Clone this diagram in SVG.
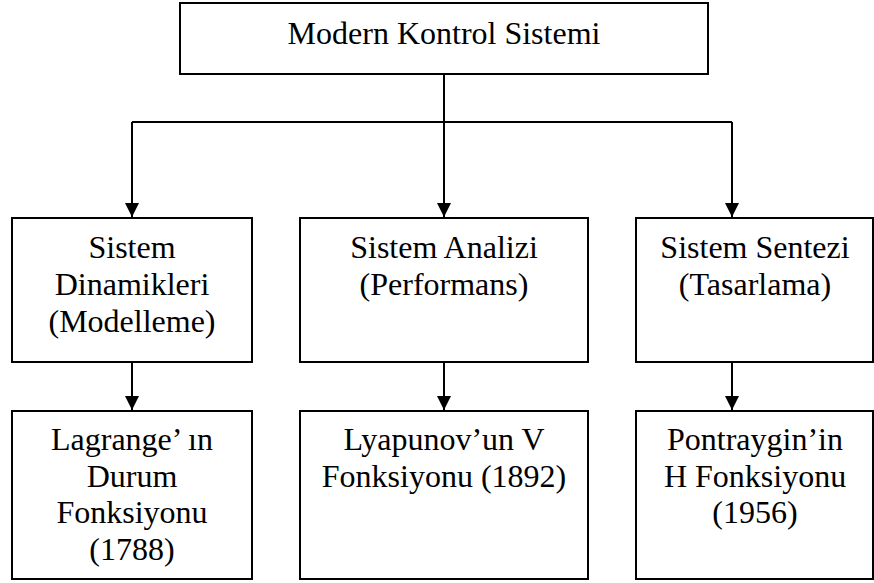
<svg xmlns="http://www.w3.org/2000/svg" width="874" height="583" viewBox="0 0 874 583">
<style>
.box{fill:#fff;stroke:#000;stroke-width:2}
.t{font-family:"Liberation Serif","Times New Roman",serif;font-size:32px;fill:#000;text-anchor:middle}
.c{fill:none;stroke:#000;stroke-width:2}
</style>
<defs>
<marker id="ah" markerUnits="userSpaceOnUse" markerWidth="16" markerHeight="16" refX="14" refY="7" orient="auto">
<path d="M0,0 L14,7 L0,14 z" fill="#000"/>
</marker>
</defs>
<rect width="874" height="583" fill="#fff"/>
<g id="connectors">
<path class="c" d="M444,74 V122"/>
<path class="c" d="M132,122 H732"/>
<path class="c" d="M132,122 V217" marker-end="url(#ah)"/>
<path class="c" d="M444,122 V217" marker-end="url(#ah)"/>
<path class="c" d="M732,122 V217" marker-end="url(#ah)"/>
<path class="c" d="M132,362 V410" marker-end="url(#ah)"/>
<path class="c" d="M444,362 V410" marker-end="url(#ah)"/>
<path class="c" d="M732,362 V410" marker-end="url(#ah)"/>
</g>
<g id="root">
<rect class="box" x="180" y="3" width="528" height="71"/>
<text class="t" x="444" y="44">Modern Kontrol Sistemi</text>
</g>
<g id="dinamik">
<rect class="box" x="12" y="218" width="240" height="144"/>
<text class="t" x="132" y="258">Sistem</text>
<text class="t" x="132" y="295">Dinamikleri</text>
<text class="t" x="132" y="332">(Modelleme)</text>
</g>
<g id="analiz">
<rect class="box" x="300" y="218" width="288" height="144"/>
<text class="t" x="444" y="258">Sistem Analizi</text>
<text class="t" x="444" y="295">(Performans)</text>
</g>
<g id="sentez">
<rect class="box" x="636" y="218" width="237" height="144"/>
<text class="t" x="755" y="258">Sistem Sentezi</text>
<text class="t" x="755" y="295">(Tasarlama)</text>
</g>
<g id="lagrange">
<rect class="box" x="12" y="411" width="240" height="168"/>
<text class="t" x="132" y="450">Lagrange’ ın</text>
<text class="t" x="132" y="487">Durum</text>
<text class="t" x="132" y="523">Fonksiyonu</text>
<text class="t" x="132" y="560">(1788)</text>
</g>
<g id="lyapunov">
<rect class="box" x="300" y="411" width="288" height="168"/>
<text class="t" x="444" y="450">Lyapunov’un V</text>
<text class="t" x="444" y="487">Fonksiyonu (1892)</text>
</g>
<g id="pontryagin">
<rect class="box" x="636" y="411" width="237" height="168"/>
<text class="t" x="755" y="450">Pontraygin’in</text>
<text class="t" x="755" y="487">H Fonksiyonu</text>
<text class="t" x="755" y="523">(1956)</text>
</g>
</svg>
